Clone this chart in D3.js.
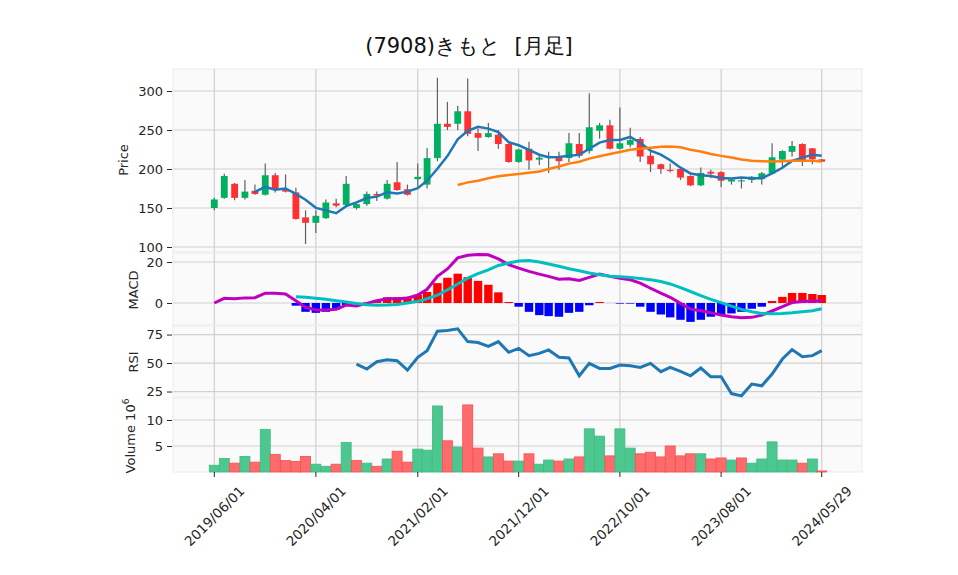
<!DOCTYPE html>
<html><head><meta charset="utf-8">
<script src="https://cdn.jsdelivr.net/npm/d3@7/dist/d3.min.js"></script>
<style>body{margin:0;background:#fff}text{font-family:"DejaVu Sans",sans-serif}</style>
</head><body>
<svg id="c" width="958" height="575"></svg>
<script>
// ---------- data ----------
const dates = ["2019/06/01","2019/07/01","2019/08/01","2019/09/01","2019/10/01","2019/11/01","2019/12/01",
"2020/01/01","2020/02/01","2020/03/01","2020/04/01","2020/05/01","2020/06/01","2020/07/01","2020/08/01","2020/09/01","2020/10/01","2020/11/01","2020/12/01",
"2021/01/01","2021/02/01","2021/03/01","2021/04/01","2021/05/01","2021/06/01","2021/07/01","2021/08/01","2021/09/01","2021/10/01","2021/11/01","2021/12/01",
"2022/01/01","2022/02/01","2022/03/01","2022/04/01","2022/05/01","2022/06/01","2022/07/01","2022/08/01","2022/09/01","2022/10/01","2022/11/01","2022/12/01",
"2023/01/01","2023/02/01","2023/03/01","2023/04/01","2023/05/01","2023/06/01","2023/07/01","2023/08/01","2023/09/01","2023/10/01","2023/11/01","2023/12/01",
"2024/01/01","2024/02/01","2024/03/01","2024/04/01","2024/05/01","2024/05/29"];
const opens  = [150,163,181,163,172,167,192,173.5,170,138,131,137,156,154,150,155,168,162,183,174,187,180,214,258,258,274,246,241,244,232,209,226,212,215,214.5,214,232,223,249,256,226,231,238.5,217,206,199,200,191,179,196.5,196,184,184,186,187,194.5,212,222,232,226.5,212.4];
const highs  = [163,194,182,186,180,207,195,193,176,147,147,161,162,191,156,171,171,186,209,180,207,227,317,286,281,316,252,259,250,233,226,235,219,222,222,246,246,297,259,263,279,253,241,222,207,207,200,192,202,199,197,188,187,191,196,233,224,236,233,227,212.4];
const lows   = [147,162,160,161,167,166,170,170,135,104,118,136,151,153,148,153,159,161,172,166,175,175,210,250,250,242,223,240,226,208,208,199,205,195,199,209,214,220,239,225,225,228,209,196,194,195.5,186,178,178,188,177,180,175,182,180,194,201,216,204,206,209.4];
const closes = [161,191,163,171,168,192,173,171,136,131,140,157,153,181,155,168,166,181,173,167,190,214,258,254,274,245,240,246,232,209,225,211,214.5,216,210,233,217,253.5,256,226,233,237,216,206,200,197.5,189,179,195,194,185,186.5,185.5,190,194.5,215,223,229.5,211,212.5,209.4];
const volumes = [1.3,2.6,1.7,3.0,1.9,8.2,3.4,2.2,2.05,3.0,1.5,1.1,1.5,5.7,2.2,1.7,1.1,2.5,4.0,1.9,4.4,4.2,12.7,6.0,4.8,12.9,4.6,2.9,3.5,2.1,2.1,3.5,1.5,2.3,2.1,2.5,2.9,8.3,6.9,3.1,8.3,4.6,3.5,3.8,2.9,5.0,3.1,3.5,3.5,2.5,2.7,2.3,2.7,1.7,2.5,5.8,2.3,2.3,1.7,2.5,0.2];
const macd = [0,2.3,2.1,2.5,2.6,4.8,4.8,4.4,1.1,-2.1,-3.4,-3.4,-3.1,-1.0,-1.5,-0.2,1.1,2.1,2.1,2.3,3.9,6.7,13,16.6,22,23.3,23.6,23.5,21.5,18.7,17.0,15.4,14.1,13.0,11.6,11.8,11.0,12.5,14.1,13.0,12.1,11.3,9.7,7.2,4.8,2.8,-0.2,-3.0,-3.8,-4.8,-5.9,-6.7,-7.2,-7.0,-5.9,-3.9,-1.8,0.2,0.7,1.0,1.0];
const signal = [null,null,null,null,null,null,null,null,3.1,2.8,2.3,1.8,1.1,0.5,-0.2,-0.8,-1.1,-1.0,-0.7,0,0.8,2.1,3.8,6.4,9.3,12.1,14.3,16.2,18.3,19.5,20.5,20.7,20.0,19.0,17.9,16.7,15.7,14.6,13.8,13.1,12.8,12.5,12.0,11.3,10.5,9.3,7.5,5.6,3.6,1.8,0.2,-1.5,-3.1,-4.3,-5.1,-5.2,-5.1,-4.8,-4.3,-3.8,-2.8];
const hist = [null,null,null,null,null,null,null,null,-1.3,-4.3,-4.8,-4.3,-3.1,-1.0,-0.5,0.3,1.5,2.8,2.8,3.1,3.9,5.4,9.7,12.3,14.3,12.6,10.8,8.9,5.2,0.5,-1.8,-4.3,-5.9,-6.4,-6.7,-4.8,-4.3,-1.1,0.5,0,-0.3,-0.3,-1.8,-4.3,-5.6,-7.0,-8.2,-9.2,-8.2,-6.7,-5.9,-5.1,-4.3,-2.8,-1.8,1.0,3.0,4.9,4.9,4.4,3.9];
const rsi = [null,null,null,null,null,null,null,null,null,null,null,null,null,null,49.1,44.7,51.2,52.9,52.1,43.8,55,60.9,78,78.5,80,68.8,68,64.6,68.8,59.4,62.9,56.5,58.5,61.5,55,54.4,38.8,49.7,45.3,45.3,48.2,47.6,46.2,49.7,42.4,46.2,42.6,38.8,45.6,37.9,37.9,23.2,21.2,31.5,30,40.3,53.5,61.8,55.6,56.5,60.9];
const xTickLabels = ["2019/06/01","2020/04/01","2021/02/01","2021/12/01","2022/10/01","2023/08/01","2024/05/29"];
const priceTicks = [100,150,200,250,300];
const macdTicks = [0,20];
const rsiTicks = [25,50,75];
const volTicks = [5,10];
const title = "(7908)きもと  [月足]";

// ---------- helpers ----------
const parse = d3.timeParse("%Y/%m/%d");
const T = dates.map(parse);
function sma(arr, n){ return arr.map((v,i)=> i<n-1 ? null : d3.mean(arr.slice(i-n+1,i+1))); }
const ma5 = sma(closes,5), ma25 = sma(closes,25);

const svg = d3.select("#c");
const L = 173, R = 862;
const P = {price:[69,252], macd:[253,325], rsi:[326,397], vol:[398,472]};

const x = d3.scaleTime().domain([parse(xTickLabels[0]), parse(xTickLabels[xTickLabels.length-1])]).range([214.3, 821.7]);
const yP = d3.scaleLinear().domain([93.6,328.2]).range([P.price[1],P.price[0]]);
const yM = d3.scaleLinear().domain([-10.73,24.39]).range([P.macd[1],P.macd[0]]);
const yR = d3.scaleLinear().domain([20.2,82.5]).range([P.rsi[1],P.rsi[0]]);
const yV = d3.scaleLinear().domain([0,14.23]).range([P.vol[1],P.vol[0]]);

const gridC = "#d0d0d0";
Object.values(P).forEach(p=>{
  svg.append("rect").attr("x",L).attr("y",p[0]).attr("width",R-L).attr("height",p[1]-p[0])
    .attr("fill","#fafafa").attr("stroke","#ececec").attr("stroke-width",1);
});

function panel(scale, ticks, range){
  const g = svg.append("g");
  g.selectAll("line.h").data(ticks).join("line")
    .attr("x1",L).attr("x2",R).attr("y1",d=>scale(d)).attr("y2",d=>scale(d))
    .attr("stroke",gridC).attr("stroke-width",1.2);
  g.selectAll("line.v").data(xTickLabels).join("line")
    .attr("x1",d=>x(parse(d))).attr("x2",d=>x(parse(d))).attr("y1",range[0]).attr("y2",range[1])
    .attr("stroke",gridC).attr("stroke-width",1.2);
  const ax = d3.axisLeft(scale).tickValues(ticks).tickSize(5).tickPadding(4).tickFormat(d3.format("d"));
  const a = svg.append("g").attr("transform",`translate(${L-1},0)`).call(ax);
  a.select(".domain").remove();
  a.selectAll("text").attr("font-size",13).attr("fill","#262626").attr("font-family","DejaVu Sans");
  a.selectAll("line").attr("stroke","#262626");
  return g;
}
panel(yP, priceTicks, P.price);
panel(yM, macdTicks, P.macd);
panel(yR, rsiTicks, P.rsi);
panel(yV, volTicks, P.vol);

// ---------- candles ----------
const idx = d3.range(dates.length);
const up = i => closes[i] >= opens[i];
const cg = svg.append("g");
cg.selectAll("line.w").data(idx).join("line")
  .attr("x1",i=>x(T[i])).attr("x2",i=>x(T[i]))
  .attr("y1",i=>yP(highs[i])).attr("y2",i=>yP(lows[i]))
  .attr("stroke","#606060").attr("stroke-width",1.2);
cg.selectAll("rect").data(idx).join("rect")
  .attr("x",i=>x(T[i])-3.4).attr("width",6.8)
  .attr("y",i=>yP(Math.max(opens[i],closes[i])))
  .attr("height",i=>Math.max(1,Math.abs(yP(opens[i])-yP(closes[i]))))
  .attr("fill",i=>up(i)?"#00b060":"#fe3032");

const line = (ys, sc) => d3.line().defined(i=>ys[i]!=null).x(i=>x(T[i])).y(i=>sc(ys[i]))(idx);
svg.append("path").attr("d",line(ma5,yP)).attr("fill","none").attr("stroke","#1f77b4").attr("stroke-width",2.5);
svg.append("path").attr("d",line(ma25,yP)).attr("fill","none").attr("stroke","#ff7f0e").attr("stroke-width",2.5);

// ---------- MACD ----------
svg.append("g").selectAll("rect").data(idx.filter(i=>hist[i]!=null)).join("rect")
  .attr("x",i=>x(T[i])-4.2).attr("width",8.4)
  .attr("y",i=>yM(Math.max(0,hist[i])))
  .attr("height",i=>Math.abs(yM(hist[i])-yM(0)))
  .attr("fill",i=>hist[i]>=0?"#ff0000":"#0000ff");
svg.append("path").attr("d",line(macd,yM)).attr("fill","none").attr("stroke","#bf00bf").attr("stroke-width",3);
svg.append("path").attr("d",line(signal,yM)).attr("fill","none").attr("stroke","#00bfbf").attr("stroke-width",3);

// ---------- RSI ----------
svg.append("path").attr("d",line(rsi,yR)).attr("fill","none").attr("stroke","#1f77b4").attr("stroke-width",3);

// ---------- Volume ----------
const volUp = i => i===0 || closes[i] >= closes[i-1];
svg.append("g").selectAll("rect").data(idx).join("rect")
  .attr("x",i=>x(T[i])-5).attr("width",10)
  .attr("y",i=>yV(volumes[i])).attr("height",i=>yV(0)-yV(volumes[i]))
  .attr("fill",i=>volUp(i)?"#4dc790":"#fd6b6c")
  .attr("stroke",i=>volUp(i)?"#3dbb82":"#fd4d4f").attr("stroke-width",0.8);

// ---------- X axis ----------
const xg = svg.append("g");
xg.selectAll("line").data(xTickLabels).join("line")
  .attr("x1",d=>x(parse(d))).attr("x2",d=>x(parse(d))).attr("y1",P.vol[1]).attr("y2",P.vol[1]+5)
  .attr("stroke","#262626");
xg.selectAll("text").data(xTickLabels).join("text")
  .attr("transform",d=>`translate(${x(parse(d))},516) rotate(-45)`)
  .attr("text-anchor","middle").attr("dominant-baseline","central")
  .attr("font-size",13.5).attr("fill","#262626").text(d=>d);

// ---------- labels ----------
function ylabel(txt, cx, cy){
  return svg.append("text").attr("transform",`translate(${cx},${cy}) rotate(-90)`)
    .attr("text-anchor","middle").attr("font-size",13).attr("fill","#262626").text(txt);
}
ylabel("Price",128,160);
ylabel("MACD",138,290);
ylabel("RSI",138,362);
const vl = svg.append("text").attr("transform",`translate(135,436) rotate(-90)`)
  .attr("text-anchor","middle").attr("font-size",13).attr("fill","#262626");
vl.append("tspan").text("Volume  10");
vl.append("tspan").attr("dy",-6).attr("font-size",9).text("6");

svg.append("text").attr("x",469).attr("y",53).attr("text-anchor","middle")
  .attr("font-size",21).attr("fill","#111").attr("xml:space","preserve").style("white-space","pre")
  .attr("font-family","'DejaVu Sans','Noto Sans CJK JP',sans-serif").text(title);
</script>
</body></html>
